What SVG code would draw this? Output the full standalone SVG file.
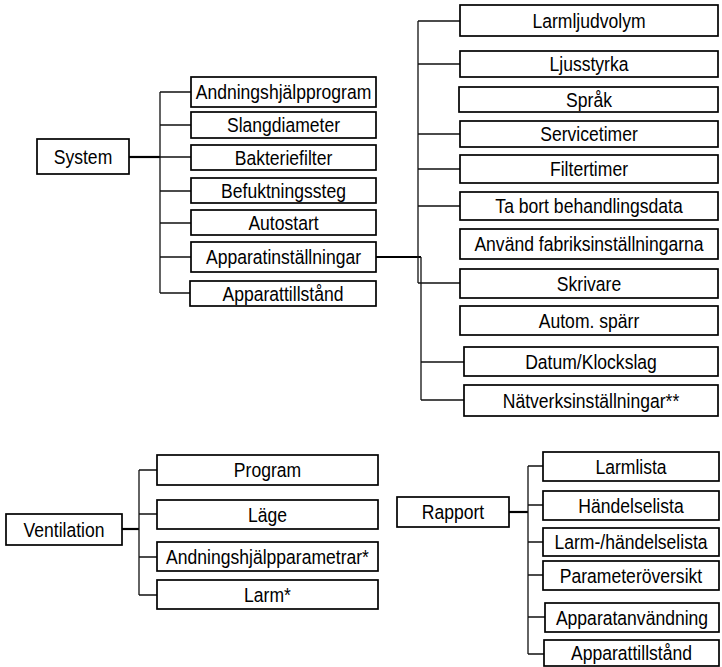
<svg xmlns="http://www.w3.org/2000/svg" width="722" height="667" viewBox="0 0 722 667">
<style>
rect{fill:#fff;stroke:#000;stroke-width:1.7}
text{font-family:"Liberation Sans",Arial,sans-serif;font-size:19.5px;fill:#000;text-anchor:middle}
.c path{fill:none;stroke:#111;stroke-width:1.3}
.c path.t{stroke:#000;stroke-width:2.2}
</style>
<rect x="0" y="0" width="722" height="667" style="fill:#fff;stroke:none"/>
<g class="c" id="connectors">
<path class="t" d="M129 157H160"/>
<path d="M160 92V293M160 92H191M160 125H191M160 157H191M160 191H191M160 223H191M160 257H191M160 293H190"/>
<path class="t" d="M376 257H421"/>
<path d="M418 21V283M421 257V400M418 21H460M418 64H460M418 134H460M418 169H460M418 206H460M418 283H460M421 362H464M421 400H464"/>
<path class="t" d="M122 529H139"/>
<path d="M139 470V595M139 470H157M139 514H157M139 557H157M139 595H157"/>
<path class="t" d="M509 512H528"/>
<path d="M528 466V654M528 466H543M528 505H543M528 542H543M528 575H543M528 617H545M528 654H544"/>
</g>
<g id="system"><rect x="37" y="139" width="92" height="35"/><text transform="translate(83 163.5) scale(0.9 1)">System</text></g>
<g id="andningshjalpprogram"><rect x="191" y="77" width="185" height="30"/><text transform="translate(283.5 99) scale(0.9 1)">Andningshjälpprogram</text></g>
<g id="slangdiameter"><rect x="191" y="112" width="185" height="26"/><text transform="translate(283.5 132) scale(0.9 1)">Slangdiameter</text></g>
<g id="bakteriefilter"><rect x="191" y="145" width="185" height="25"/><text transform="translate(283.5 164.5) scale(0.9 1)">Bakteriefilter</text></g>
<g id="befuktningssteg"><rect x="191" y="178" width="185" height="25"/><text transform="translate(283.5 197.5) scale(0.9 1)">Befuktningssteg</text></g>
<g id="autostart"><rect x="191" y="210" width="185" height="25"/><text transform="translate(283.5 229.5) scale(0.9 1)">Autostart</text></g>
<g id="apparatinstallningar"><rect x="191" y="242" width="185" height="30"/><text transform="translate(283.5 264) scale(0.9 1)">Apparatinställningar</text></g>
<g id="apparattillstand1"><rect x="190" y="281" width="186" height="25"/><text transform="translate(283 300.5) scale(0.9 1)">Apparattillstånd</text></g>
<g id="larmljudvolym"><rect x="460" y="5" width="258" height="31"/><text transform="translate(589 27.5) scale(0.9 1)">Larmljudvolym</text></g>
<g id="ljusstyrka"><rect x="460" y="51" width="258" height="26"/><text transform="translate(589 71) scale(0.9 1)">Ljusstyrka</text></g>
<g id="sprak"><rect x="459" y="87" width="259" height="25"/><text transform="translate(589 106.5) scale(0.9 1)">Språk</text></g>
<g id="servicetimer"><rect x="460" y="121" width="258" height="26"/><text transform="translate(589 141) scale(0.9 1)">Servicetimer</text></g>
<g id="filtertimer"><rect x="460" y="155" width="258" height="28"/><text transform="translate(589 176) scale(0.9 1)">Filtertimer</text></g>
<g id="tabort"><rect x="460" y="192" width="258" height="28"/><text transform="translate(589 213) scale(0.9 1)">Ta bort behandlingsdata</text></g>
<g id="anvand"><rect x="460" y="229" width="258" height="30"/><text transform="translate(589 251) scale(0.9 1)">Använd fabriksinställningarna</text></g>
<g id="skrivare"><rect x="460" y="269" width="258" height="29"/><text transform="translate(589 290.5) scale(0.9 1)">Skrivare</text></g>
<g id="autom"><rect x="460" y="306" width="258" height="29"/><text transform="translate(589 327.5) scale(0.9 1)">Autom. spärr</text></g>
<g id="datum"><rect x="464" y="347" width="254" height="29"/><text transform="translate(591 368.5) scale(0.9 1)">Datum/Klockslag</text></g>
<g id="natverk"><rect x="464" y="385" width="254" height="31"/><text transform="translate(591 407.5) scale(0.9 1)">Nätverksinställningar**</text></g>
<g id="ventilation"><rect x="6" y="514" width="116" height="31"/><text transform="translate(64 536.5) scale(0.9 1)">Ventilation</text></g>
<g id="program"><rect x="157" y="455" width="221" height="30"/><text transform="translate(267.5 477) scale(0.9 1)">Program</text></g>
<g id="lage"><rect x="157" y="500" width="221" height="29"/><text transform="translate(267.5 521.5) scale(0.9 1)">Läge</text></g>
<g id="andningsparam"><rect x="157" y="542" width="221" height="29"/><text transform="translate(267.5 563.5) scale(0.9 1)">Andningshjälpparametrar*</text></g>
<g id="larm"><rect x="157" y="580" width="221" height="29"/><text transform="translate(267.5 601.5) scale(0.9 1)">Larm*</text></g>
<g id="rapport"><rect x="397" y="497" width="112" height="30"/><text transform="translate(453 519) scale(0.9 1)">Rapport</text></g>
<g id="larmlista"><rect x="543" y="452" width="176" height="29"/><text transform="translate(631 473.5) scale(0.9 1)">Larmlista</text></g>
<g id="handelselista"><rect x="543" y="491" width="176" height="29"/><text transform="translate(631 512.5) scale(0.9 1)">Händelselista</text></g>
<g id="larmhandelselista"><rect x="543" y="528" width="176" height="28"/><text transform="translate(631 549) scale(0.9 1)">Larm-/händelselista</text></g>
<g id="parameteroversikt"><rect x="543" y="561" width="176" height="29"/><text transform="translate(631 582.5) scale(0.9 1)">Parameteröversikt</text></g>
<g id="apparatanvandning"><rect x="545" y="603" width="174" height="29"/><text transform="translate(632 624.5) scale(0.9 1)">Apparatanvändning</text></g>
<g id="apparattillstand2"><rect x="544" y="640" width="175" height="26"/><text transform="translate(631.5 660) scale(0.9 1)">Apparattillstånd</text></g>
</svg>
